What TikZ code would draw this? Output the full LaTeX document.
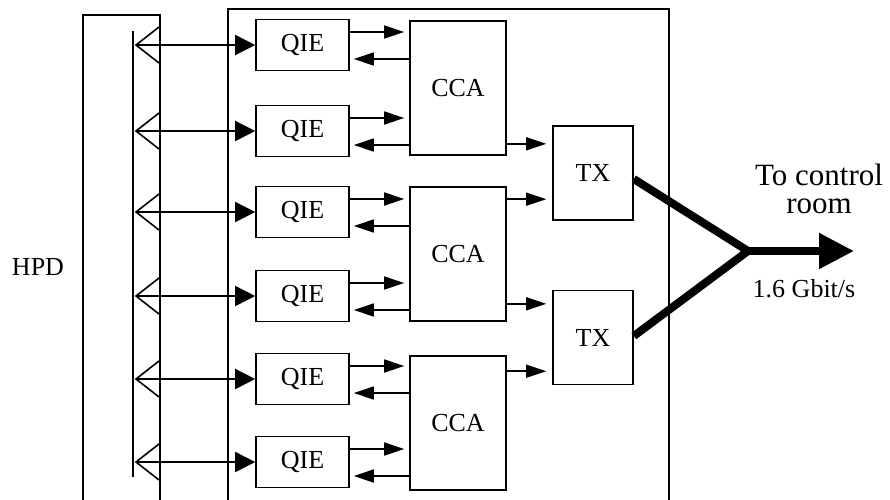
\documentclass[tikz,border=0pt]{standalone}
\usepackage{fontspec}
\setmainfont{Liberation Serif}
\usetikzlibrary{arrows.meta,calc}
\begin{document}
\begin{tikzpicture}[x=1pt,y=-1pt,
  lbl/.style={font=\fontsize{26}{30}\selectfont},
  box/.style={draw, line width=1.6pt, inner sep=0pt, lbl},
  qie/.style={box, minimum width=93pt, minimum height=51pt},
  cca/.style={box, minimum width=96pt, minimum height=134pt},
  tx/.style={box, minimum width=80pt, minimum height=94pt},
  frame/.style={draw, line width=1.6pt, inner sep=0pt, anchor=north west},
  wire/.style={line width=1.6pt},
  fwd/.style={wire, -{Triangle[length=20pt,width=13pt]}},
  feed/.style={wire, -{Triangle[length=20pt,width=20pt]}},
  link/.style={line width=8pt, line join=miter},
]
\useasboundingbox (0,0) rectangle (890,499);
\clip (0,0) rectangle (890,499);

% photodetector housing and front-end board (both run off the bottom)
\node[frame, minimum width=77pt, minimum height=520pt] (hpd) at (82,14) {};
\node[frame, minimum width=441pt, minimum height=520pt] (board) at (227,8) {};
\node[lbl, anchor=base] (hpdlabel) at (38,275) {HPD};

% pixel bus inside the HPD
\draw[wire] (133,31) -- (133,477);

% readout chips, one per pixel group
\foreach \i/\y in {1/45,2/131,3/212,4/296,5/379,6/462} {
  \node[qie] (qie\i) at (302.5,\y) {QIE};
  \coordinate (pix\i) at (136,\y);
  \draw[wire] (159,\y-18) -- (pix\i) -- (159,\y+18);
  \draw[feed] (pix\i) -- (qie\i);
}

% channel control ASICs
\node[cca] (cca1) at (458,88) {CCA};
\node[cca] (cca2) at (458,254) {CCA};
\node[cca] (cca3) at (458,423) {CCA};

\foreach \i/\c in {1/1,2/1,3/2,4/2,5/3,6/3} {
  \coordinate (up\i) at ([yshift=13pt]qie\i.east);
  \coordinate (dn\i) at ([yshift=-14pt]qie\i.east);
  \draw[fwd, shorten >=5pt] (up\i) -- (up\i -| cca\c.west);
  \draw[fwd, shorten >=4pt] (dn\i -| cca\c.west) -- (dn\i);
}

% optical transmitters
\node[tx] (tx1) at (593,173) {TX};
\node[tx] (tx2) at (593,337.5) {TX};

\coordinate (o1) at ([yshift=12pt]cca1.south east);
\coordinate (o2) at ([yshift=-13pt]cca2.north east);
\coordinate (o3) at ([yshift=18pt]cca2.south east);
\coordinate (o4) at ([yshift=-16pt]cca3.north east);
\draw[fwd, shorten >=6pt] (o1) -- (o1 -| tx1.west);
\draw[fwd, shorten >=6pt] (o2) -- (o2 -| tx1.west);
\draw[fwd, shorten >=6pt] (o3) -- (o3 -| tx2.west);
\draw[fwd, shorten >=6pt] (o4) -- (o4 -| tx2.west);

% fibre link out of the board
\coordinate (join) at (748,251);
\coordinate (out) at (854,251);
\draw[link] ([yshift=-6pt]tx1.east) -- (join) -- ([yshift=1.5pt]tx2.east);
\draw[link, -{Triangle[length=35pt,width=34pt]}] (join) -- (out);

\node[font=\fontsize{31}{28}\selectfont, anchor=base] (dest1) at (819,185) {To control};
\node[font=\fontsize{31}{28}\selectfont, anchor=base] (dest2) at (819,213) {room};
\node[lbl, anchor=base] (rate) at (804,297) {1.6 Gbit/s};
\end{tikzpicture}
\end{document}
